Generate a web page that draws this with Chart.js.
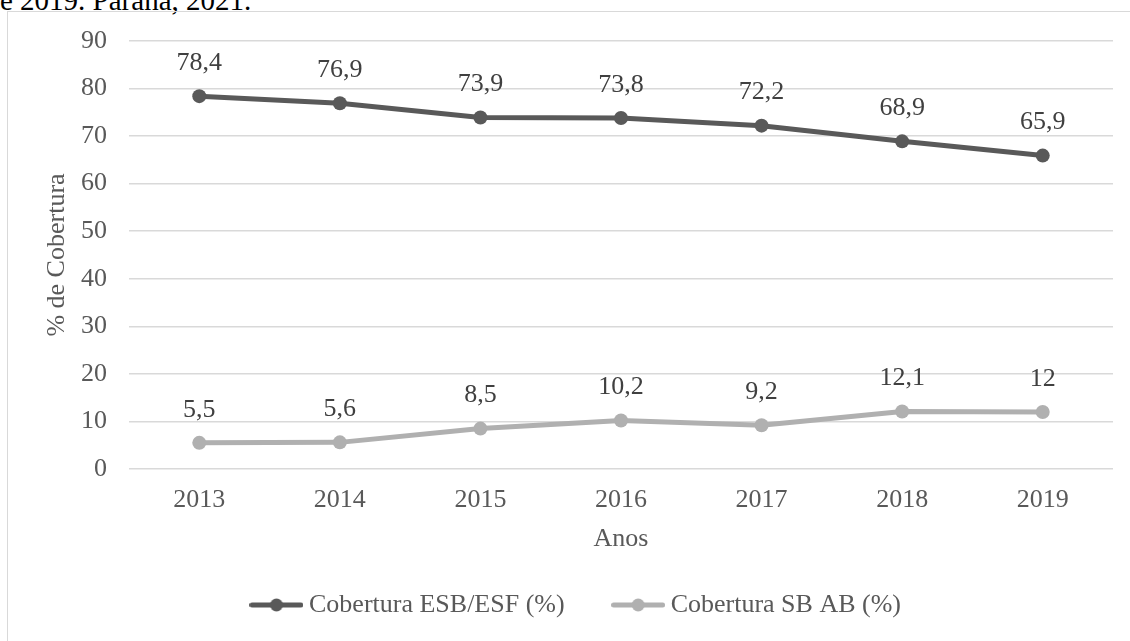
<!DOCTYPE html>
<html>
<head>
<meta charset="utf-8">
<script src="https://cdn.jsdelivr.net/npm/chart.js@4"></script>
<style>
  html, body { margin: 0; padding: 0; background: #fff; overflow: hidden; }
  #wrap { position: relative; width: 1130px; height: 641px; overflow: hidden; }
  #caption { position: absolute; left: 0; top: -14px; font: 29px/29px "Liberation Serif", "Times New Roman", serif; color: #000; white-space: nowrap; }
  #frame { position: absolute; left: 7px; top: 11px; width: 1200px; height: 700px; border: 1px solid #d9d9d9; }
  canvas { position: absolute; left: 0; top: 0; }
</style>
</head>
<body>
<div id="wrap">
  <div id="caption">e 2019. Paraná, 2021.</div>
  <div id="frame"></div>
  <canvas id="chart" width="1130" height="641"></canvas>
</div>
<script>
const years = ["2013", "2014", "2015", "2016", "2017", "2018", "2019"];
const esbEsf = [78.4, 76.9, 73.9, 73.8, 72.2, 68.9, 65.9];
const sbAb = [5.5, 5.6, 8.5, 10.2, 9.2, 12.1, 12];
const seriesNames = ["Cobertura ESB/ESF (%)", "Cobertura SB AB (%)"];

const font = "'Liberation Serif', 'Times New Roman', serif";
const textGrey = "#595959";
const darkGrey = "#595959";
const lightGrey = "#b0b0b0";

// little "line with dot" picture for the legend
function legendMarker(color) {
    const c = document.createElement("canvas");
    c.width = 54;
    c.height = 16;
    const ctx = c.getContext("2d");
    ctx.strokeStyle = color;
    ctx.lineWidth = 5;
    ctx.lineCap = "round";
    ctx.beginPath();
    ctx.moveTo(2.5, 8);
    ctx.lineTo(51.5, 8);
    ctx.stroke();
    ctx.fillStyle = color;
    ctx.beginPath();
    ctx.arc(27, 8, 6.5, 0, Math.PI * 2);
    ctx.fill();
    return c;
}

// value labels above each point
const valueLabels = {
    id: "valueLabels",
    afterDatasetsDraw(chart) {
        const ctx = chart.ctx;
        ctx.save();
        ctx.font = "26px " + font;
        ctx.fillStyle = "#404040";
        ctx.textAlign = "center";
        ctx.textBaseline = "middle";
        chart.data.datasets.forEach((ds, i) => {
            chart.getDatasetMeta(i).data.forEach((pt, j) => {
                ctx.fillText(String(ds.data[j]).replace(".", ","), pt.x, pt.y - 33);
            });
        });
        ctx.restore();
    },
};

new Chart(document.getElementById("chart"), {
    type: "line",
    plugins: [valueLabels],
    data: {
        labels: years,
        datasets: [
            {
                label: seriesNames[0],
                data: esbEsf,
                borderColor: darkGrey,
                backgroundColor: darkGrey,
                borderWidth: 5,
                pointRadius: 7,
                pointBorderWidth: 0,
            },
            {
                label: seriesNames[1],
                data: sbAb,
                borderColor: lightGrey,
                backgroundColor: lightGrey,
                borderWidth: 5,
                pointRadius: 7,
                pointBorderWidth: 0,
            },
        ],
    },
    options: {
        responsive: false,
        animation: false,
        layout: { padding: { left: 45, right: 17, top: 41, bottom: 13 } },
        plugins: {
            tooltip: { enabled: false },
            legend: {
                position: "bottom",
                labels: {
                    usePointStyle: true,
                    pointStyleWidth: 39,
                    padding: 54,
                    color: textGrey,
                    font: { family: font, size: 26 },
                    generateLabels(chart) {
                        return chart.data.datasets.map((ds, i) => ({
                            text: ds.label,
                            fillStyle: ds.borderColor,
                            strokeStyle: ds.borderColor,
                            lineWidth: 0,
                            pointStyle: legendMarker(ds.borderColor),
                            fontColor: textGrey,
                            datasetIndex: i,
                        }));
                    },
                },
            },
        },
        scales: {
            x: {
                offset: true,
                grid: { display: false, drawTicks: false },
                border: { display: false },
                ticks: { color: textGrey, font: { family: font, size: 26 }, padding: 16 },
                title: {
                    display: true,
                    text: "Anos",
                    color: textGrey,
                    font: { family: font, size: 26 },
                    padding: { top: 0, bottom: -16.6 },
                },
                afterFit(scale) { scale.height = 69; },
            },
            y: {
                min: 0,
                max: 90,
                ticks: { stepSize: 10, color: textGrey, font: { family: font, size: 26 }, padding: 22 },
                grid: { color: "#d9d9d9", lineWidth: 1.5, drawTicks: false },
                border: { display: false },
                title: {
                    display: true,
                    text: "% de Cobertura",
                    color: textGrey,
                    font: { family: font, size: 26 },
                    padding: { top: -3, bottom: 0 },
                },
                afterFit(scale) { scale.width = 84; },
            },
        },
    },
});
</script>
</body>
</html>
